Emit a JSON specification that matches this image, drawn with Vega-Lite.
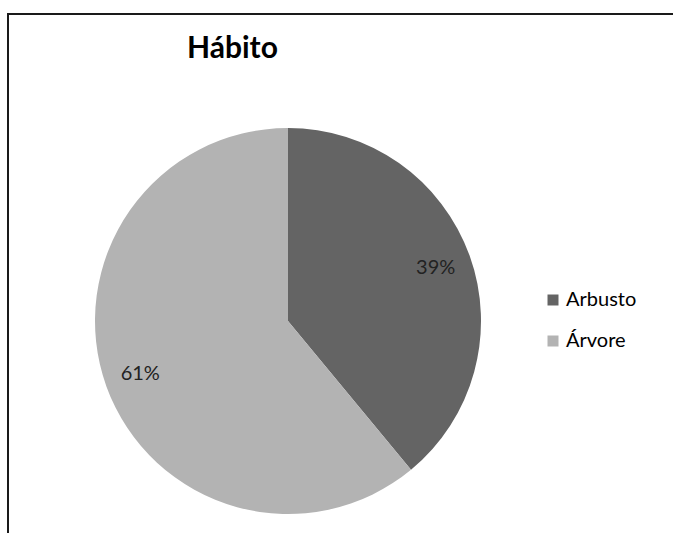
{
  "$schema": "https://vega.github.io/schema/vega-lite/v6.json",
  "width": 665,
  "height": 519,
  "autosize": {"type": "none"},
  "padding": {"left": 8, "top": 14, "right": 0, "bottom": 0},
  "background": "white",
  "config": {"view": {"stroke": null}, "font": "Lato"},
  "title": {"text": "Hábito", "font": "Lato", "fontSize": 30, "fontWeight": "bold", "color": "#000", "anchor": "start", "frame": "group", "dx": 179, "offset": -75, "baseline": "alphabetic"},
  "data": {"values": [
    {"habito": "Arbusto", "pct": 39, "label": "39%"},
    {"habito": "Árvore", "pct": 61, "label": "61%"}
  ]},
  "layer": [
    {"data": {"values": [{"frame": "top"}]},
     "mark": {"type": "rule", "stroke": "#1a1a1a", "strokeWidth": 2},
     "encoding": {"x": {"value": -1}, "y": {"value": 0}, "x2": {"value": 665}, "y2": {"value": 0}}},
    {"data": {"values": [{"frame": "left"}]},
     "mark": {"type": "rule", "stroke": "#1a1a1a", "strokeWidth": 2},
     "encoding": {"x": {"value": 0}}},
    {"mark": {"type": "arc", "x": 280, "y": 307, "outerRadius": 193},
     "encoding": {
       "theta": {"field": "pct", "type": "quantitative", "stack": true},
       "order": {"field": "pct", "type": "quantitative"},
       "color": {
         "field": "habito", "type": "nominal",
         "scale": {"domain": ["Arbusto", "Árvore"], "range": ["#646464", "#b3b3b3"]},
         "legend": {"orient": "none", "legendX": 535, "legendY": 276, "title": null, "symbolType": "square", "symbolSize": 121, "symbolStrokeWidth": 0, "labelFontSize": 20, "labelFont": "Lato", "labelColor": "#000", "rowPadding": 21, "labelOffset": 3}
       }
     }},
    {"mark": {"type": "text", "x": 280, "y": 307, "radius": 157, "fontSize": 20, "font": "Lato", "color": "#222"},
     "encoding": {
       "theta": {"field": "pct", "type": "quantitative", "stack": true},
       "order": {"field": "pct", "type": "quantitative"},
       "text": {"field": "label"}
     }}
  ]
}
